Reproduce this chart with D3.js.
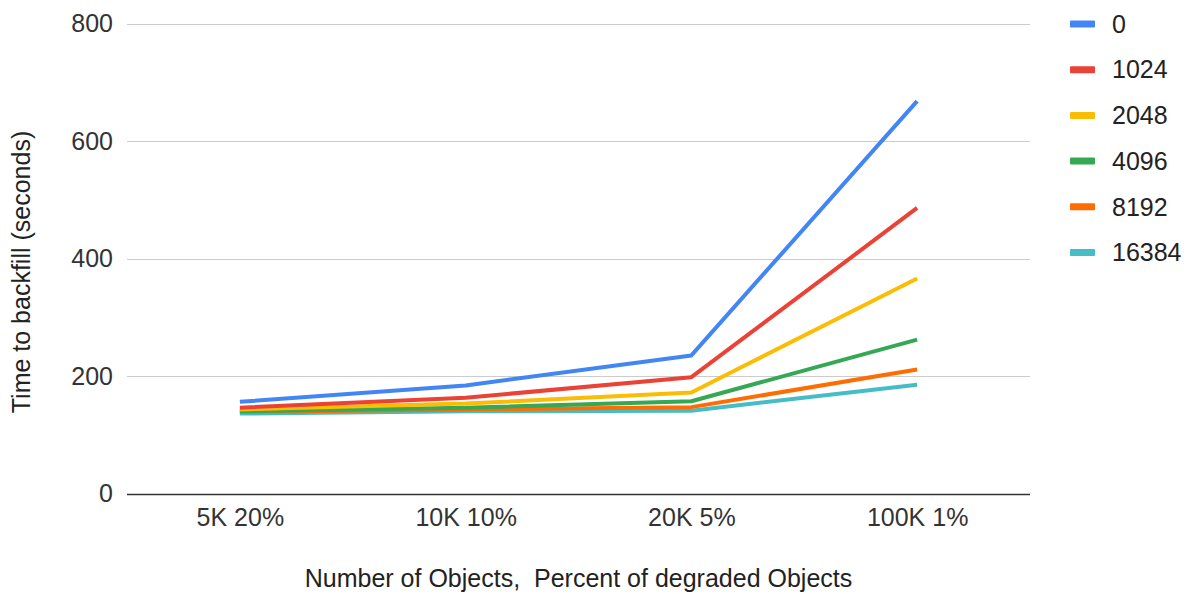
<!DOCTYPE html>
<html>
<head>
<meta charset="utf-8">
<script src="https://cdn.jsdelivr.net/npm/d3@7"></script>
<style>
  html, body { margin: 0; padding: 0; background: #fff; }
  svg { display: block; font-family: "Liberation Sans", Arial, sans-serif; }
</style>
</head>
<body>
<svg id="chart" width="1186" height="594"></svg>
<script>
// Backfill timing by object count / degraded share, one line per setting
const categories = ["5K 20%", "10K 10%", "20K 5%", "100K 1%"];
const seriesNames = ["0", "1024", "2048", "4096", "8192", "16384"];
const values0     = [156, 184, 235, 668];
const values1024  = [146, 163, 198, 486];
const values2048  = [143, 153, 172, 366];
const values4096  = [140, 146, 157, 262];
const values8192  = [139, 143, 147, 211];
const values16384 = [136, 140, 141, 185];
const yTicks = [0, 200, 400, 600, 800];
const colors = ["#4285F4", "#EA4335", "#FBBC04", "#34A853", "#FF6D01", "#46BDC6"];

const series = [values0, values1024, values2048, values4096, values8192, values16384]
  .map((vals, i) => ({ name: seriesNames[i], color: colors[i], values: vals }));

const svg = d3.select("#chart");
const plot = { left: 127, right: 1030, top: 23.5, bottom: 493.5 };
const fontSize = 25;

const x = d3.scalePoint().domain(categories).range([plot.left, plot.right]).padding(0.5);
const y = d3.scaleLinear().domain([0, 800]).range([plot.bottom, plot.top]);

// horizontal gridlines
svg.append("g").selectAll("line").data(yTicks.filter(d => d !== 0)).join("line")
  .attr("x1", plot.left).attr("x2", plot.right)
  .attr("y1", d => Math.round(y(d)) + 0.5).attr("y2", d => Math.round(y(d)) + 0.5)
  .attr("stroke", "#cccccc").attr("stroke-width", 1.2);

// baseline
svg.append("line")
  .attr("x1", plot.left).attr("x2", plot.right)
  .attr("y1", Math.round(y(0)) + 0.5).attr("y2", Math.round(y(0)) + 0.5)
  .attr("stroke", "#333").attr("stroke-width", 1.4);

// y tick labels
const yAxis = d3.axisLeft(y).tickValues(yTicks).tickSize(0).tickPadding(14);
const gy = svg.append("g").attr("transform", `translate(${plot.left},0)`).call(yAxis);
gy.select(".domain").remove();
gy.selectAll("text").attr("font-size", fontSize).attr("fill", "#333")
  .attr("font-family", "Liberation Sans, Arial, sans-serif");

// x tick labels
const xAxis = d3.axisBottom(x).tickSize(0).tickPadding(15);
const gx = svg.append("g").attr("transform", `translate(0,${plot.bottom})`).call(xAxis);
gx.select(".domain").remove();
gx.selectAll("text").attr("font-size", fontSize).attr("fill", "#333")
  .attr("font-family", "Liberation Sans, Arial, sans-serif");

// axis titles
svg.append("text")
  .attr("x", (plot.left + plot.right) / 2).attr("y", 587)
  .attr("text-anchor", "middle").attr("font-size", fontSize).attr("fill", "#222")
  .attr("xml:space", "preserve")
  .text("Number of Objects,  Percent of degraded Objects");

svg.append("text")
  .attr("transform", `translate(30,272) rotate(-90)`)
  .attr("text-anchor", "middle").attr("font-size", fontSize).attr("fill", "#222")
  .text("Time to backfill (seconds)");

// series lines
const line = d3.line().x((d, i) => x(categories[i])).y(d => y(d));
svg.append("g").selectAll("path").data(series.slice().reverse()).join("path")
  .attr("d", d => line(d.values))
  .attr("fill", "none")
  .attr("stroke", d => d.color)
  .attr("stroke-width", 4)
  .attr("stroke-linejoin", "round")
  .attr("stroke-linecap", "butt");

// legend
const legend = svg.append("g").selectAll("g").data(series).join("g")
  .attr("transform", (d, i) => `translate(1070,${24 + i * 45.7})`);
legend.append("rect")
  .attr("x", 0).attr("y", -3.5).attr("width", 25).attr("height", 7)
  .attr("rx", 1).attr("fill", d => d.color);
legend.append("text")
  .attr("x", 42).attr("y", 0).attr("dy", "0.35em")
  .attr("font-size", fontSize).attr("fill", "#222")
  .text(d => d.name);
</script>
</body>
</html>
